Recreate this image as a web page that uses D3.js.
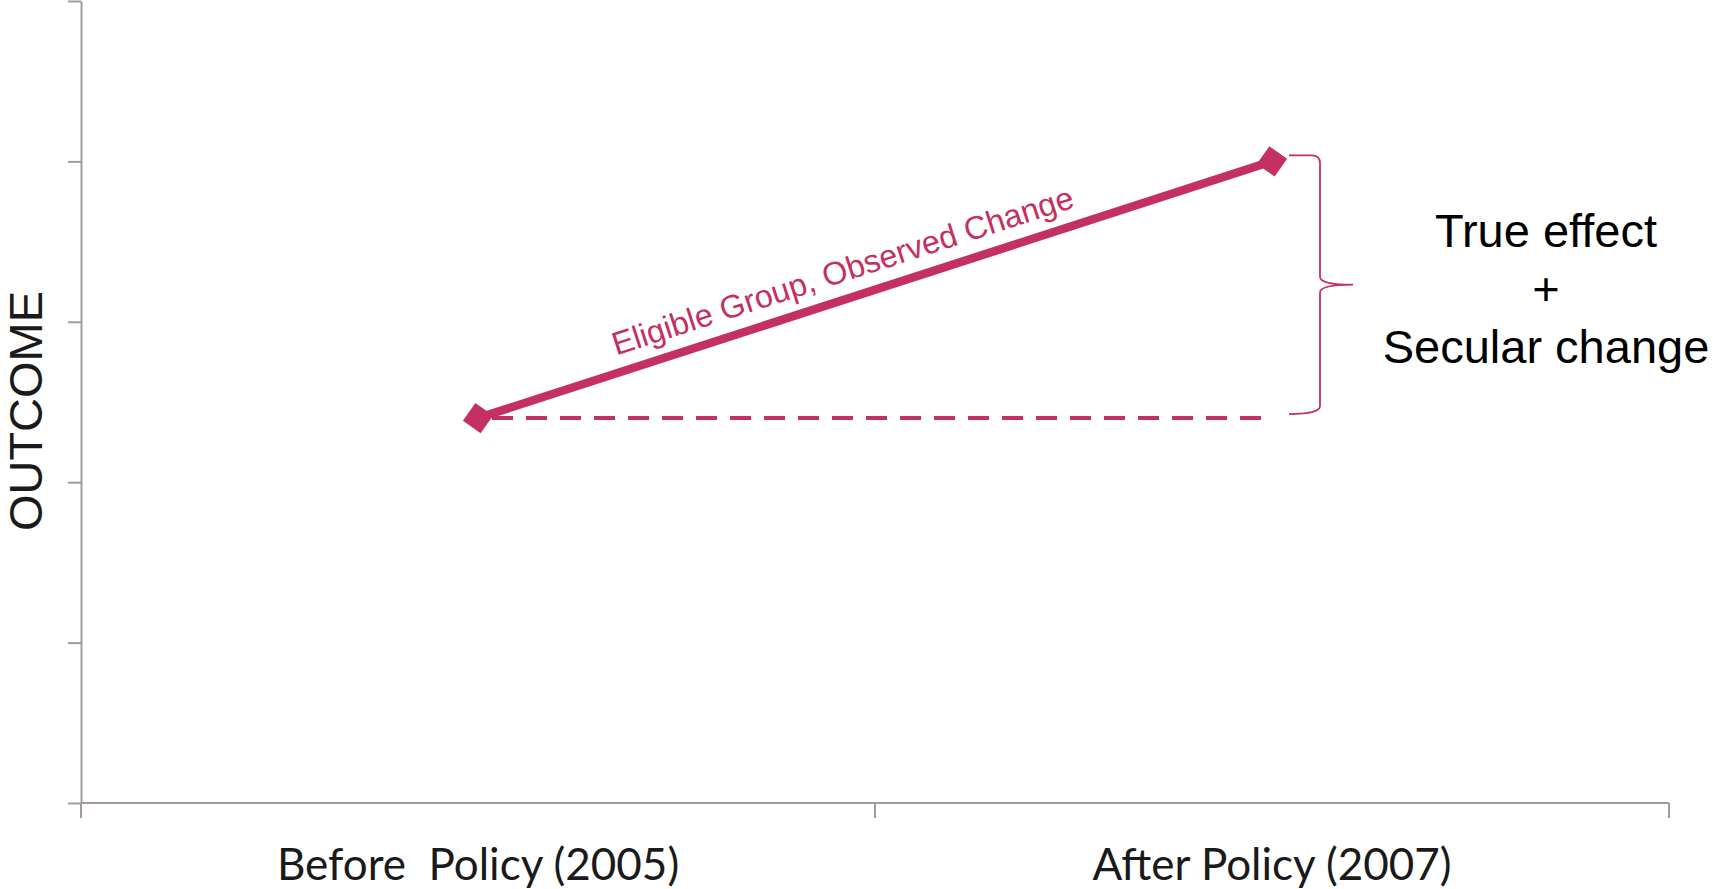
<!DOCTYPE html>
<html>
<head>
<meta charset="utf-8">
<script src="https://cdn.jsdelivr.net/npm/d3@7"></script>
<style>
  html, body { margin: 0; padding: 0; background: #ffffff; }
  svg { display: block; }
</style>
</head>
<body>
<svg id="chart" width="1713" height="889"></svg>
<script>
// Periods on the x axis and observed outcome for the eligible group
const categories = ["Before  Policy (2005)", "After Policy (2007)"];
const eligibleValues = [2.4, 4.0];
const yTicks = [0, 1, 2, 3, 4, 5];
const lineLabel = "Eligible Group, Observed Change";
const yTitle = "OUTCOME";
const bracketLabel = ["True effect", "+", "Secular change"];

const plotLeft = 81, plotRight = 1669, plotTop = 1, plotBottom = 803;
const accent = "#c4305f";
const axisColor = "#a39b9b";

const svg = d3.select("#chart");

const x = d3.scaleBand().domain(categories).range([plotLeft, plotRight]);
const y = d3.scaleLinear().domain([0, 5]).range([plotBottom, plotTop]);
const cx = c => x(c) + x.bandwidth() / 2;

// Y axis: line with outward ticks, no labels
const yAxis = d3.axisLeft(y).tickValues(yTicks).tickSize(13).tickSizeOuter(0).tickFormat("");
const gy = svg.append("g").attr("transform", `translate(${plotLeft},0)`).call(yAxis);
gy.selectAll("line, path").attr("stroke", axisColor).attr("stroke-width", 2);

// X axis: baseline with ticks at the category boundaries
const boundaries = [...categories.map(c => x(c)), x(categories[categories.length - 1]) + x.bandwidth()];
const gx = svg.append("g");
gx.append("line")
  .attr("x1", plotLeft).attr("x2", plotRight)
  .attr("y1", y(0)).attr("y2", y(0))
  .attr("stroke", axisColor).attr("stroke-width", 2);
gx.selectAll("line.tick")
  .data(boundaries)
  .join("line")
  .attr("class", "tick")
  .attr("x1", d => d).attr("x2", d => d)
  .attr("y1", y(0)).attr("y2", y(0) + 15)
  .attr("stroke", axisColor).attr("stroke-width", 2);

// Category labels
svg.append("g").selectAll("text")
  .data(categories)
  .join("text")
  .attr("x", d => cx(d))
  .attr("y", 880)
  .attr("text-anchor", "middle")
  .attr("font-family", "Lato, 'Open Sans', sans-serif")
  .attr("font-size", 44)
  .attr("fill", "#1a1a1a")
  .style("white-space", "pre")
  .text(d => d);

// Y axis title
svg.append("text")
  .attr("transform", `translate(42,${(plotTop + plotBottom) / 2 + 9}) rotate(-90)`)
  .attr("text-anchor", "middle")
  .attr("font-family", "'Liberation Sans', Arial, sans-serif")
  .attr("font-size", 47)
  .attr("fill", "#1a1a1a")
  .text(yTitle);

// Counterfactual: baseline held flat into the after period
svg.append("line")
  .attr("x1", cx(categories[0])).attr("x2", cx(categories[1]))
  .attr("y1", y(eligibleValues[0])).attr("y2", y(eligibleValues[0]))
  .attr("stroke", accent).attr("stroke-width", 4)
  .attr("stroke-dasharray", "21 13")
  .attr("stroke-dashoffset", -14);

// Observed change line
const pts = categories.map((c, i) => [cx(c), y(eligibleValues[i])]);
svg.append("path")
  .attr("d", d3.line()(pts))
  .attr("fill", "none")
  .attr("stroke", accent)
  .attr("stroke-width", 8.5);

// Markers
const angle = Math.atan2(pts[1][1] - pts[0][1], pts[1][0] - pts[0][0]) * 180 / Math.PI;
svg.append("g").selectAll("path")
  .data(pts)
  .join("path")
  .attr("d", d3.symbol().type(d3.symbolSquare).size(470))
  .attr("transform", d => `translate(${d[0]},${d[1]}) rotate(${angle + 53})`)
  .attr("fill", accent);

// Label along the observed line
const t = 0.47;
const lx = pts[0][0] + (pts[1][0] - pts[0][0]) * t;
const ly = pts[0][1] + (pts[1][1] - pts[0][1]) * t;
svg.append("text")
  .attr("transform", `translate(${lx},${ly}) rotate(${angle})`)
  .attr("y", -17)
  .attr("text-anchor", "middle")
  .attr("font-family", "'Liberation Sans', Arial, sans-serif")
  .attr("font-size", 32.3)
  .attr("fill", accent)
  .text(lineLabel);

// Curly bracket spanning the observed change
const bx = cx(categories[1]) + 48;   // vertical stroke
const bTop = y(eligibleValues[1]) - 6;
const bBot = y(eligibleValues[0]) - 4;
const bMid = (bTop + bBot) / 2;
const hook = 31, tip = 33, r = 8;
const bracket = d3.path();
bracket.moveTo(bx - hook, bTop);
bracket.lineTo(bx - r, bTop);
bracket.quadraticCurveTo(bx, bTop, bx, bTop + r);
bracket.lineTo(bx, bMid - r);
bracket.quadraticCurveTo(bx, bMid, bx + tip, bMid);
bracket.quadraticCurveTo(bx, bMid, bx, bMid + r);
bracket.lineTo(bx, bBot - r);
bracket.quadraticCurveTo(bx, bBot, bx - hook, bBot);
svg.append("path")
  .attr("d", bracket.toString())
  .attr("fill", "none")
  .attr("stroke", accent)
  .attr("stroke-width", 1.8);

// Bracket annotation
svg.append("g").selectAll("text")
  .data(bracketLabel)
  .join("text")
  .attr("x", 1546)
  .attr("y", (d, i) => [247, 305, 363][i])
  .attr("text-anchor", "middle")
  .attr("font-family", "'Liberation Sans', Arial, sans-serif")
  .attr("font-size", 47)
  .attr("fill", "#000000")
  .text(d => d);
</script>
</body>
</html>
